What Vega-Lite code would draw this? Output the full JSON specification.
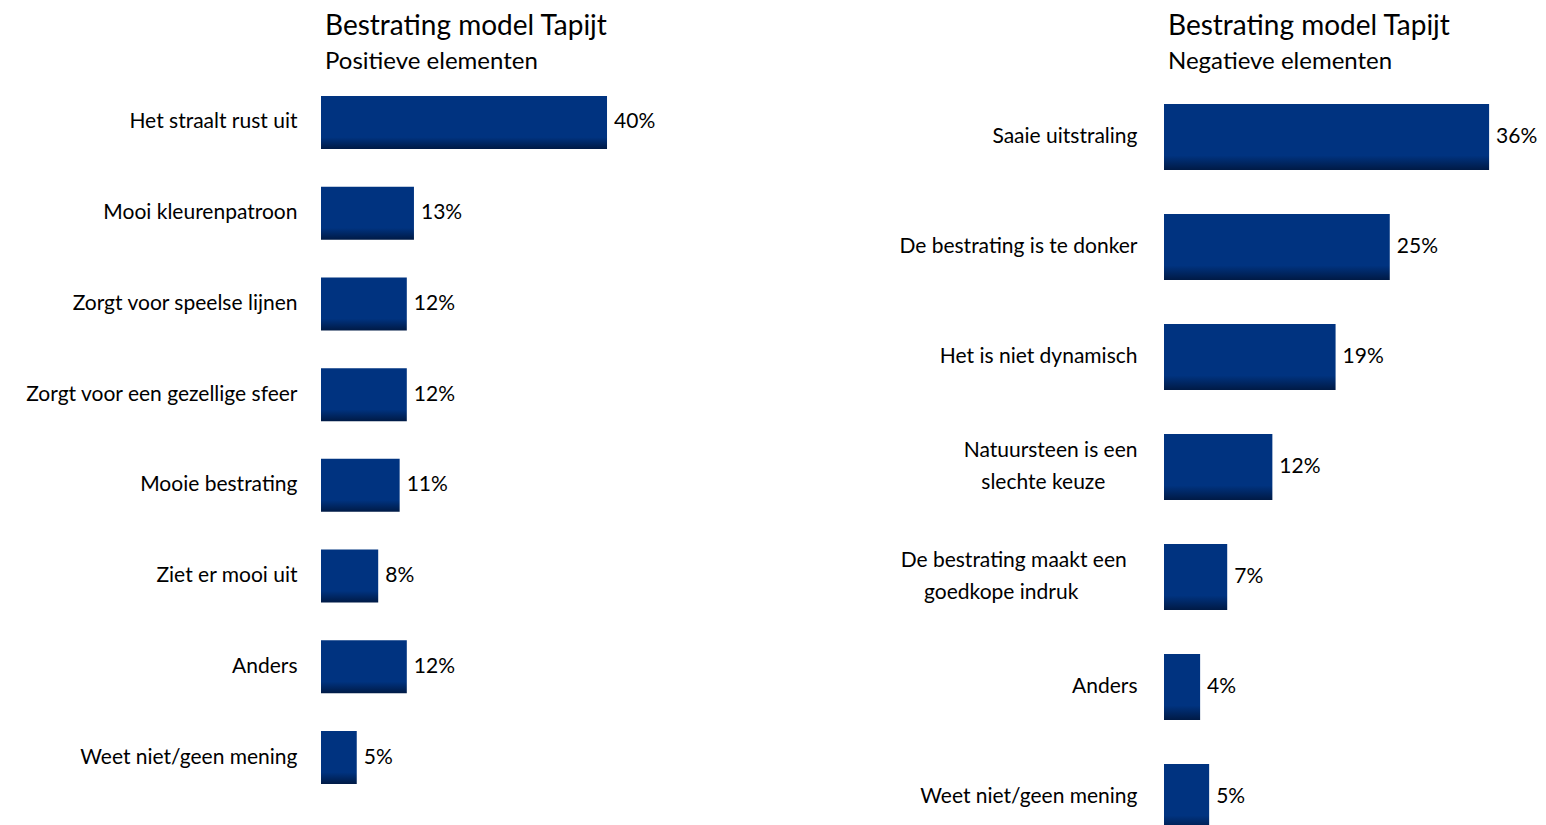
{
  "$schema": "https://vega.github.io/schema/vega-lite/v6.json",
  "background": "white",
  "padding": {"left": 24, "top": 13, "right": 0, "bottom": 0},
  "autosize": {"type": "pad"},
  "spacing": 443,
  "bounds": "flush",
  "config": {
    "view": {"stroke": null},
    "font": "Lato",
    "title": {"anchor": "start", "frame": "group", "font": "Lato", "fontSize": 28, "fontWeight": "normal", "color": "#000000", "subtitleFont": "Lato", "subtitleFontSize": 24, "subtitleColor": "#000000", "subtitlePadding": 9, "offset": 6, "dx": 4}
  },
  "datasets": {
    "pos": [
      {"label": "Het straalt rust uit", "value": 0.40},
      {"label": "Mooi kleurenpatroon", "value": 0.13},
      {"label": "Zorgt voor speelse lijnen", "value": 0.12},
      {"label": "Zorgt voor een gezellige sfeer", "value": 0.12},
      {"label": "Mooie bestrating", "value": 0.11},
      {"label": "Ziet er mooi uit", "value": 0.08},
      {"label": "Anders", "value": 0.12},
      {"label": "Weet niet/geen mening", "value": 0.05}
    ],
    "neg": [
      {"label": "Saaie uitstraling", "value": 0.36},
      {"label": "De bestrating is te donker", "value": 0.25},
      {"label": "Het is niet dynamisch", "value": 0.19},
      {"label": "Natuursteen is een|slechte keuze\u00a0\u00a0\u00a0\u00a0\u00a0\u00a0\u200b", "value": 0.12},
      {"label": "De bestrating maakt een\u00a0\u00a0\u200b|goedkope indruk\u00a0\u00a0\u00a0\u00a0\u00a0\u00a0\u00a0\u00a0\u00a0\u00a0\u00a0\u200b", "value": 0.07},
      {"label": "Anders", "value": 0.04},
      {"label": "Weet niet/geen mening", "value": 0.05}
    ]
  },
  "hconcat": [
    {
      "title": {"text": "Bestrating model Tapijt", "subtitle": "Positieve elementen"},
      "data": {"name": "pos"},
      "width": 400,
      "height": 720,
      "encoding": {
        "y": {"field": "label", "type": "nominal", "sort": null,
          "scale": {"paddingInner": 0.416, "paddingOuter": 0.176},
          "axis": {"title": null, "domain": false, "ticks": false, "grid": false, "labelFont": "Lato", "labelFontSize": 21, "labelColor": "#000000", "labelPadding": 24, "labelLimit": 500, "labelLineHeight": 32}},
        "x": {"field": "value", "type": "quantitative", "scale": {"domain": [0, 0.5594], "nice": false}, "axis": null}
      },
      "layer": [
        {"mark": {"type": "bar", "fill": {"gradient": "linear", "x1": 0, "y1": 0, "x2": 0, "y2": 1, "stops": [{"offset": 0, "color": "#003380"}, {"offset": 0.78, "color": "#003380"}, {"offset": 1, "color": "#001A45"}]}}},
        {"mark": {"type": "text", "align": "left", "baseline": "middle", "dx": 7, "font": "Lato", "fontSize": 21, "color": "#000000"},
          "encoding": {"text": {"field": "value", "type": "quantitative", "format": ".0%"}}}
      ]
    },
    {
      "title": {"text": "Bestrating model Tapijt", "subtitle": "Negatieve elementen"},
      "data": {"name": "neg"},
      "width": 382,
      "height": 774,
      "encoding": {
        "y": {"field": "label", "type": "nominal", "sort": null,
          "scale": {"paddingInner": 0.4, "paddingOuter": 0.218},
          "axis": {"title": null, "domain": false, "ticks": false, "grid": false, "labelFont": "Lato", "labelFontSize": 21, "labelColor": "#000000", "labelPadding": 27, "labelLimit": 500, "labelLineHeight": 32, "labelExpr": "split(datum.label, '|')",
            "labelOffset": {"condition": {"test": "indexof(datum.value, '|') >= 0", "value": -16}, "value": 0}}},
        "x": {"field": "value", "type": "quantitative", "scale": {"domain": [0, 0.423], "nice": false}, "axis": null}
      },
      "layer": [
        {"mark": {"type": "bar", "fill": {"gradient": "linear", "x1": 0, "y1": 0, "x2": 0, "y2": 1, "stops": [{"offset": 0, "color": "#003380"}, {"offset": 0.78, "color": "#003380"}, {"offset": 1, "color": "#001A45"}]}}},
        {"mark": {"type": "text", "align": "left", "baseline": "middle", "dx": 7, "font": "Lato", "fontSize": 21, "color": "#000000"},
          "encoding": {"text": {"field": "value", "type": "quantitative", "format": ".0%"}}}
      ]
    }
  ]
}
